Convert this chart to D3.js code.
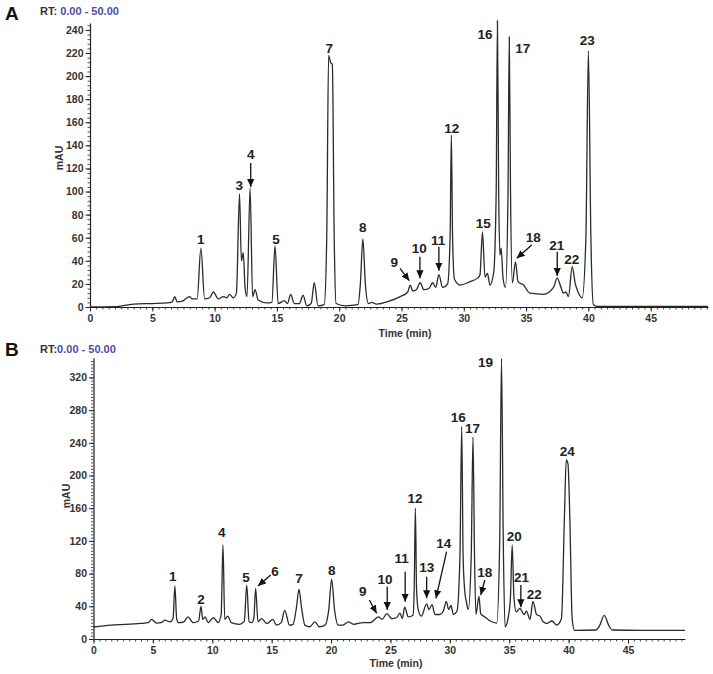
<!DOCTYPE html>
<html><head><meta charset="utf-8">
<script src="https://cdn.jsdelivr.net/npm/d3@7/dist/d3.min.js"></script>
<style>body{margin:0;background:#fff} svg{display:block}</style>
</head><body>
<svg id="c" width="713" height="674"></svg>
<script>
// ---------- DATA ----------
const timeA = [0,2.0,3.5,5.0,6.2,6.6,6.8,7.0,7.4,7.8,8.0,8.2,8.6,8.9,9.2,9.6,9.9,10.3,10.7,11.0,11.2,11.5,11.75,12.0,12.15,12.3,12.45,12.6,12.85,13.05,13.25,13.5,14.2,14.6,14.85,15.1,15.6,15.85,16.1,16.4,16.8,17.1,17.4,17.75,18.0,18.3,18.8,19.0,19.15,19.3,19.45,19.6,19.75,20.5,21.5,21.7,21.9,22.1,22.35,22.6,23.0,24.0,24.9,25.5,25.7,25.9,26.2,26.5,26.8,27.2,27.5,27.75,28.0,28.3,28.7,28.9,29.0,29.1,29.25,29.7,30.5,31.1,31.3,31.5,31.7,31.9,32.1,32.4,32.6,32.7,32.8,32.9,33.0,33.15,33.35,33.55,33.65,33.75,33.9,34.15,34.35,34.8,35.3,36.4,37.2,37.5,37.8,38.0,38.2,38.4,38.7,38.95,39.1,39.5,39.8,40.0,40.2,40.4,40.8,49.6];
const mauA  = [0,0.3,2.5,3,3.5,4.5,9,4.5,5,8,9,7,7,51,7,8,13,7,9,8,11,8,12,98,40,47,16,9,103,9,15,6,3.5,4,53,3,5.5,3,11,3,3,10,1,3,21,1,2,60,218,212,210,60,3,1,2,20,59,20,3,4,2.5,5,9,13,19,14,15,21,15,16,21,17,28,17,20,60,149,60,24,19,22,25,28,65,26,29,19,30,100,248,100,45,51,25,17,100,234,100,21,39,22,19,12,11,17,25,17,12,13,9,35,20,15,8,60,222,60,2,0.5,0.5];

const timeB = [0,1.5,4.0,4.6,4.9,5.3,5.7,6.0,6.45,6.7,6.85,7.0,7.15,7.6,7.95,8.4,8.85,9.05,9.2,9.4,9.65,10.1,10.5,10.75,10.9,11.05,11.3,11.6,12.3,12.7,12.9,13.1,13.3,13.5,13.65,13.85,14.15,14.6,15.1,15.4,15.8,16.1,16.5,16.8,17.1,17.3,17.5,17.8,18.2,18.65,19.0,19.5,19.8,20.05,20.3,20.6,21.0,21.45,21.9,22.7,23.3,24.0,24.3,24.7,25.1,25.5,25.8,26.0,26.2,26.5,26.9,27.0,27.1,27.2,27.35,27.6,28.05,28.25,28.5,28.75,29.15,29.45,29.7,29.9,30.1,30.3,30.6,30.85,31.0,31.12,31.25,31.4,31.55,31.8,31.95,32.08,32.2,32.45,32.6,32.95,33.4,33.95,34.2,34.35,34.5,34.65,34.9,35.1,35.25,35.4,35.6,35.9,36.25,36.45,36.75,37.0,37.3,37.6,37.85,38.15,38.6,39.0,39.4,39.65,39.8,39.95,40.1,40.3,40.5,42.3,42.6,43.0,43.4,43.7,46.0,49.8];
const mauB  = [14.7,17,19,20,24,19.5,20,23,21,25,65,25,20,21,27,20,22,40,24,27,20,26,20,30,115,24,28,20,18,22,66,21,20,25,62,21,25,19,24,17,20,35,17,18,40,61,40,17,15,21,15,17,35,73,35,17,17,21,18,20,20,27,24,31,25,26,31.5,25,39,27,29,60,160,60,35,28,43,36,42,30,30,34,46,36,41,30,34,100,260,100,60,45,36,100,247,100,30,52,31,27,22,19.5,120,343,120,15,25,50,115,50,33,37.5,30,34,24,46,30,28,21,19,22,17,25,150,219,214,150,25,10.5,11,16,29,16,11,10.5,10.5];

const xTicks  = [0,5,10,15,20,25,30,35,40,45];
const yTicksA = [0,20,40,60,80,100,120,140,160,180,200,220,240];
const yTicksB = [0,40,80,120,160,200,240,280,320];

// peak labels: text, retention time, mAU position
const labelTextA = ["1","3","4","5","7","8","9","10","11","12","15","16","17","18","21","22","23"];
const labelTimeA = [8.88,11.98,12.9,14.93,19.2,21.89,24.42,26.43,27.95,29.03,31.57,31.7,34.73,35.58,37.46,38.66,39.91];
const labelMauA  = [58.6,105.6,132,58.6,224,69,38.4,50.8,58,154.7,72.5,236,224,60.3,53.7,41.3,230.6];
// arrows: [t1, v1, t2, v2]
const arrowsA = [[12.9,124.7,12.9,103.9],[24.88,33.5,25.63,22.8],[26.48,43.5,26.48,24.8],[28.0,52.2,28.0,31.4],[35.45,53.7,34.25,42.2],[37.5,47.9,37.5,26.8]];

const labelTextB = ["1","2","4","5","6","7","8","9","10","11","12","13","14","16","17","18","19","20","21","22","24"];
const labelTimeB = [6.67,9.05,10.79,12.84,15.28,17.3,20.05,22.66,24.54,25.94,27.06,28.05,29.5,30.71,31.92,32.95,33.01,35.42,36.04,37.1,39.88];
const labelMauB  = [76.2,48.9,129.7,75.8,82,73.4,83.5,57.9,73,98.7,172,87.7,117,270.7,256.9,81.1,338,125.1,75.5,55,229];
const arrowsB = [[14.92,78.3,13.85,64.8],[23.22,47.7,23.84,31.4],[24.73,64,24.73,35.5],[26.24,82.3,26.24,45.6],[28.05,76.2,28.05,49.8],[29.73,106.8,28.83,49.8],[32.95,72.2,32.6,53.8],[35.98,66,35.98,38.8]];

// ---------- DRAW ----------
const svg = d3.select("#c");
const FONT = "'Liberation Sans', Arial, sans-serif";
svg.append("defs").append("marker")
  .attr("id","ah").attr("markerUnits","userSpaceOnUse")
  .attr("viewBox","0 0 10 10").attr("refX",10).attr("refY",5)
  .attr("markerWidth",8).attr("markerHeight",8).attr("orient","auto")
  .append("path").attr("d","M0,0.5 L10,5 L0,9.5 Z").attr("fill","#111");

function panel(cfg) {
  const x = d3.scaleLinear().domain(cfg.xDom).range(cfg.xRange);
  const y = d3.scaleLinear().domain(cfg.yDom).range(cfg.yRange);
  const g = svg.append("g");

  // x axis
  const xMinor = d3.range(0, cfg.xDom[1], 0.5);
  g.append("g").attr("transform",`translate(0,${cfg.yRange[0]})`)
    .call(d3.axisBottom(x).tickValues(xMinor).tickSize(2.5).tickFormat(""))
    .call(a=>a.select(".domain").remove())
    .call(a=>a.selectAll("line").attr("stroke","#444"));
  const xa = g.append("g").attr("transform",`translate(0,${cfg.yRange[0]})`)
    .call(d3.axisBottom(x).tickValues(xTicks).tickSize(4.5).tickSizeOuter(0).tickPadding(3));
  xa.select(".domain").attr("stroke","#222").attr("stroke-width",1.2);
  xa.selectAll("line").attr("stroke","#222");
  xa.selectAll("text").attr("font-family",FONT).attr("font-size",10.5).attr("font-weight","bold").attr("fill","#333");

  // y axis
  const yMinor = d3.range(0, cfg.yDom[1], 4);
  g.append("g").attr("transform",`translate(${cfg.xRange[0]},0)`)
    .call(d3.axisLeft(y).tickValues(yMinor).tickSize(2.5).tickFormat(""))
    .call(a=>a.select(".domain").remove())
    .call(a=>a.selectAll("line").attr("stroke","#555"));
  const ya = g.append("g").attr("transform",`translate(${cfg.xRange[0]},0)`)
    .call(d3.axisLeft(y).tickValues(cfg.yTicks).tickSize(4.5).tickSizeOuter(0).tickPadding(2));
  ya.select(".domain").attr("stroke","#222").attr("stroke-width",1.2);
  ya.selectAll("line").attr("stroke","#222");
  ya.selectAll("text").attr("font-family",FONT).attr("font-size",10.5).attr("font-weight","bold").attr("fill","#333");

  // trace
  const pts = cfg.t.map((t,i)=>[t,cfg.v[i]]);
  g.append("path").datum(pts)
    .attr("d", d3.line().x(d=>x(d[0])).y(d=>y(d[1])).curve(d3.curveMonotoneX))
    .attr("fill","none").attr("stroke","#2a2a2a").attr("stroke-width",1.3).attr("stroke-linejoin","round");

  // arrows
  g.selectAll(".arr").data(cfg.arrows).join("line")
    .attr("x1",d=>x(d[0])).attr("y1",d=>y(d[1])).attr("x2",d=>x(d[2])).attr("y2",d=>y(d[3]))
    .attr("stroke","#111").attr("stroke-width",1.3).attr("marker-end","url(#ah)");

  // peak labels
  g.selectAll(".pl").data(cfg.labels).join("text")
    .attr("x",(d,i)=>x(cfg.lt[i])).attr("y",(d,i)=>y(cfg.lv[i]))
    .attr("text-anchor","middle").attr("dominant-baseline","central")
    .attr("font-family",FONT).attr("font-size",13.5).attr("font-weight","bold").attr("fill","#222")
    .text(d=>d);

  // titles
  g.append("text").attr("x",cfg.letterPos[0]).attr("y",cfg.letterPos[1])
    .attr("font-family",FONT).attr("font-size",19).attr("font-weight","bold").attr("fill","#111")
    .attr("dominant-baseline","central").text(cfg.letter);
  const rt = g.append("text").attr("x",cfg.rtPos[0]).attr("y",cfg.rtPos[1])
    .attr("font-family",FONT).attr("font-size",11).attr("font-weight","bold").attr("dominant-baseline","central");
  rt.append("tspan").attr("fill","#333").text("RT:");
  rt.append("tspan").attr("fill","#4b4ba6").text(cfg.rtGap + "0.00 - 50.00");
  g.append("text").attr("transform",`translate(${cfg.yLabPos[0]},${cfg.yLabPos[1]}) rotate(-90)`)
    .attr("text-anchor","middle").attr("dominant-baseline","central")
    .attr("font-family",FONT).attr("font-size",10.5).attr("font-weight","bold").attr("fill","#333").text("mAU");
  g.append("text").attr("x",cfg.xLabPos[0]).attr("y",cfg.xLabPos[1])
    .attr("text-anchor","middle").attr("dominant-baseline","central")
    .attr("font-family",FONT).attr("font-size",10.5).attr("font-weight","bold").attr("fill","#333").text("Time (min)");
}

panel({t:timeA, v:mauA, xDom:[0,49.6], xRange:[90,708], yDom:[0,246], yRange:[307,23],
  yTicks:yTicksA, labels:labelTextA, lt:labelTimeA, lv:labelMauA, arrows:arrowsA,
  letter:"A", letterPos:[5,13], rtPos:[40,11], rtGap:" ", yLabPos:[59,158], xLabPos:[405,333]});
panel({t:timeB, v:mauB, xDom:[0,49.8], xRange:[93.5,685], yDom:[0,344], yRange:[639,357.8],
  yTicks:yTicksB, labels:labelTextB, lt:labelTimeB, lv:labelMauB, arrows:arrowsB,
  letter:"B", letterPos:[5,349], rtPos:[40,349], rtGap:"", yLabPos:[66,496], xLabPos:[396,663]});
</script>
</body></html>
